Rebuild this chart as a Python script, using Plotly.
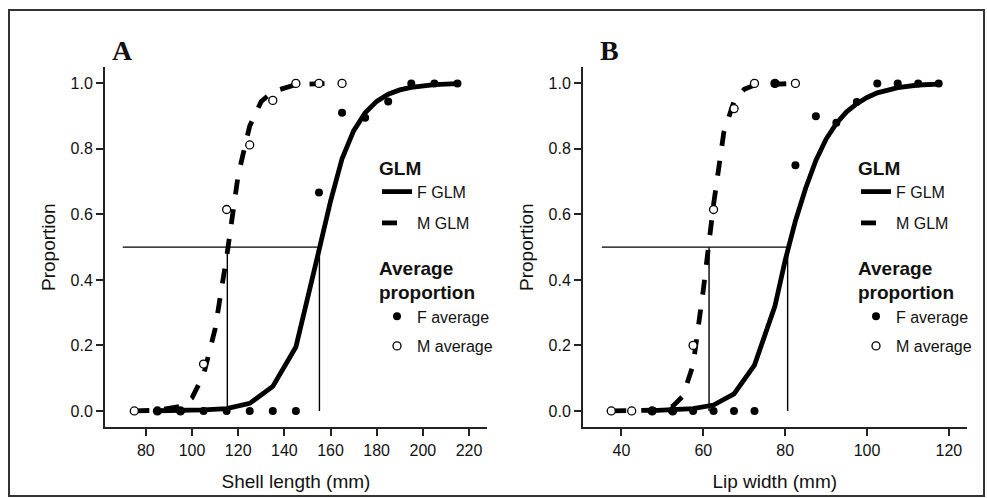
import plotly.graph_objects as go

# ---------------- Panel A: Shell length ----------------
a_f_avg_x = [85, 95, 105, 115, 125, 135, 145, 155, 165, 175, 185, 195, 205, 215]
a_f_avg_y = [0, 0, 0, 0, 0, 0, 0, 0.667, 0.91, 0.895, 0.945, 1, 1, 1]
a_m_avg_x = [75, 85, 95, 105, 115, 125, 135, 145, 155, 165]
a_m_avg_y = [0, 0, 0, 0.143, 0.615, 0.812, 0.948, 1, 1, 1]

a_f_glm_x = [85, 95, 105, 115, 125, 135, 145, 155, 160, 165, 170, 175, 180, 185, 190, 195, 205, 215]
a_f_glm_y = [0.0005, 0.001, 0.003, 0.007, 0.023, 0.075, 0.195, 0.49, 0.64, 0.77, 0.855, 0.91,
             0.945, 0.967, 0.98, 0.988, 0.996, 0.999]
a_m_glm_x = [75, 85, 95, 100, 105, 110, 115, 120, 125, 130, 135, 145, 155, 165]
a_m_glm_y = [0.0, 0.002, 0.014, 0.04, 0.11, 0.25, 0.47, 0.72, 0.87, 0.945, 0.975, 0.996, 0.999, 1.0]

a_l50 = [115.3, 155.2]       # M, F lengths at 50 %
a_hline_start = 70

# ---------------- Panel B: Lip width ----------------
b_f_avg_x = [47.5, 52.5, 57.5, 62.5, 67.5, 72.5, 77.5, 82.5, 87.5, 92.5, 97.5, 102.5, 107.5, 112.5, 117.5]
b_f_avg_y = [0, 0, 0, 0, 0, 0, 1.0, 0.75, 0.9, 0.88, 0.943, 1, 1, 1, 1]
b_m_avg_x = [37.5, 42.5, 47.5, 52.5, 57.5, 62.5, 67.5, 72.5, 77.5, 82.5]
b_m_avg_y = [0, 0, 0, 0, 0.2, 0.615, 0.923, 1, 1, 1]

b_f_glm_x = [47.5, 52.5, 57.5, 62.5, 67.5, 72.5, 77.5, 80, 82.5, 85, 87.5, 90, 92.5, 95, 97.5,
             100, 102.5, 107.5, 112.5, 117.5]
b_f_glm_y = [0.001, 0.003, 0.007, 0.018, 0.052, 0.14, 0.32, 0.46, 0.58, 0.68, 0.765, 0.83, 0.878,
             0.913, 0.938, 0.957, 0.971, 0.987, 0.995, 0.998]
b_m_glm_x = [37.5, 42.5, 47.5, 52.5, 55, 57.5, 60, 62.5, 65, 67.5, 70, 72.5, 77.5, 82.5]
b_m_glm_y = [0, 0.0005, 0.002, 0.014, 0.045, 0.14, 0.37, 0.63, 0.85, 0.945, 0.982, 0.995, 0.999, 1.0]

b_l50 = [61.4, 80.6]
b_hline_start = 35.2

y_ticks = [0.0, 0.2, 0.4, 0.6, 0.8, 1.0]
a_xticks = [80, 100, 120, 140, 160, 180, 200, 220]
b_xticks = [40, 60, 80, 100, 120]

W, H = 987, 498
FONT = "Liberation Sans, Arial, sans-serif"

fig = go.Figure()


def add_panel(xa, ya, l50, hstart, fx, fy, mx, my, fgx, fgy, mgx, mgy, lgs):
    # reference lines at 0.5
    fig.add_trace(go.Scatter(x=[hstart, max(l50)], y=[0.5, 0.5], mode="lines",
                             line=dict(color="black", width=1.4), showlegend=False,
                             xaxis=xa, yaxis=ya, hoverinfo="skip"))
    for v in l50:
        fig.add_trace(go.Scatter(x=[v, v], y=[0, 0.5], mode="lines",
                                 line=dict(color="black", width=1.4), showlegend=False,
                                 xaxis=xa, yaxis=ya, hoverinfo="skip"))
    fig.add_trace(go.Scatter(x=fgx, y=fgy, mode="lines", name="F GLM",
                             line=dict(color="black", width=4.8),
                             legend=lgs[0], xaxis=xa, yaxis=ya))
    fig.add_trace(go.Scatter(x=mgx, y=mgy, mode="lines", name="M GLM",
                             line=dict(color="black", width=4.8, dash="15px,15px"),
                             legend=lgs[1], xaxis=xa, yaxis=ya))
    fig.add_trace(go.Scatter(x=mx, y=my, mode="markers", name="M average",
                             marker=dict(symbol="circle", size=8, color="white",
                                         line=dict(color="black", width=1.3)),
                             legend=lgs[3], xaxis=xa, yaxis=ya))
    fig.add_trace(go.Scatter(x=fx, y=fy, mode="markers", name="F average",
                             marker=dict(symbol="circle", size=8, color="black",
                                         line=dict(color="black", width=0)),
                             legend=lgs[2], xaxis=xa, yaxis=ya))


add_panel("x", "y", a_l50, a_hline_start, a_f_avg_x, a_f_avg_y, a_m_avg_x, a_m_avg_y,
          a_f_glm_x, a_f_glm_y, a_m_glm_x, a_m_glm_y, ["legend", "legend2", "legend3", "legend4"])
add_panel("x2", "y2", b_l50, b_hline_start, b_f_avg_x, b_f_avg_y, b_m_avg_x, b_m_avg_y,
          b_f_glm_x, b_f_glm_y, b_m_glm_x, b_m_glm_y, ["legend5", "legend6", "legend7", "legend8"])

ydom = [1 - 427.3 / H, 1 - 67 / H]
axis_common = dict(showline=True, linewidth=2, linecolor="#222", ticks="outside", ticklen=7,
                   tickwidth=1.5, tickcolor="#222", showgrid=False, zeroline=False,
                   tickfont=dict(family=FONT, size=16, color="#111"), automargin=False)

fig.update_layout(
    width=W, height=H, margin=dict(l=0, r=0, t=0, b=0),
    paper_bgcolor="white", plot_bgcolor="white",
    font=dict(family=FONT, color="#111"),
    xaxis=dict(domain=[105 / W, 487 / W], range=[62.3, 227.8], tickvals=a_xticks,
               title=dict(text="Shell length (mm)", font=dict(size=19), standoff=17),
               anchor="y", **axis_common),
    yaxis=dict(domain=ydom, range=[-0.05, 1.05], tickvals=y_ticks, tickformat=".1f",
               title=dict(text="Proportion", font=dict(size=19), standoff=10),
               anchor="x", **axis_common),
    xaxis2=dict(domain=[583 / W, 966.5 / W], range=[30.6, 124.3], tickvals=b_xticks,
                title=dict(text="Lip width (mm)", font=dict(size=19), standoff=17),
                anchor="y2", **axis_common),
    yaxis2=dict(domain=ydom, range=[-0.05, 1.05], tickvals=y_ticks, tickformat=".1f",
                title=dict(text="Proportion", font=dict(size=19), standoff=10),
                anchor="x2", **axis_common),
)

legend_common = dict(xanchor="left", yanchor="top", bgcolor="rgba(0,0,0,0)",
                     font=dict(family=FONT, size=16, color="#111"), traceorder="normal",
                     itemclick=False, itemdoubleclick=False)
glm_title = dict(text="<b>GLM</b>", side="top")
avg_title = dict(text="<b>Average<br>proportion</b>", side="top")
for i, dx in ((0, 0), (4, 479)):
    fig.update_layout({
        "legend%s" % ("" if i == 0 else i + 1): dict(x=(377 + dx) / W, y=1 - 150 / H, title=glm_title,
                                                    **legend_common),
        "legend%d" % (i + 2): dict(x=(377 + dx) / W, y=1 - 206 / H, **legend_common),
        "legend%d" % (i + 3): dict(x=(377 + dx) / W, y=1 - 250 / H, title=avg_title, **legend_common),
        "legend%d" % (i + 4): dict(x=(377 + dx) / W, y=1 - 329 / H, **legend_common),
    })

# panel letters
for txt, xpx in [("A", 122), ("B", 609)]:
    fig.add_annotation(text="<b>%s</b>" % txt, x=xpx / W, y=1 - 50 / H, xref="paper", yref="paper",
                       showarrow=False, xanchor="center", yanchor="middle",
                       font=dict(family="Liberation Serif, Times New Roman, serif", size=28, color="#111"))

# outer frame
fig.add_shape(type="rect", xref="paper", yref="paper", x0=9 / W, x1=984 / W, y0=1 - 496 / H, y1=1 - 10 / H,
              line=dict(color="#333", width=2), fillcolor="rgba(0,0,0,0)")

fig.write_html("out.html", config={"displayModeBar": False},
               post_script="document.body.style.margin='0';document.body.style.overflow='hidden';")
